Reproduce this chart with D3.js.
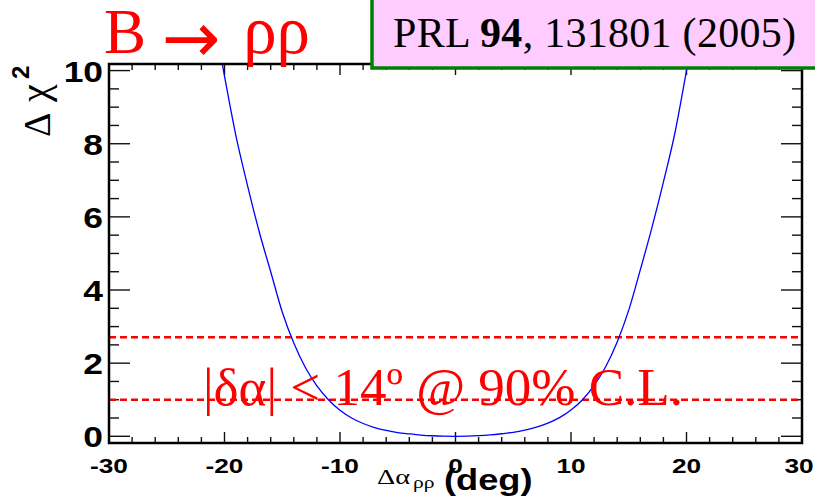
<!DOCTYPE html>
<html>
<head>
<meta charset="utf-8">
<script src="https://cdn.jsdelivr.net/npm/d3@7"></script>
<style>
  html, body { margin: 0; padding: 0; background: #fff; }
  svg { display: block; }
</style>
</head>
<body>
<svg id="chart" width="815" height="498"></svg>
<script>
// ---- data ----
const alphaDeg = [-21,-20,-19,-18,-17,-16,-15,-14,-13,-12,-11,-10,-9,-8,-7,-6,-5,-4,-3,-2,-1,0,1,2,3,4,5,6,7,8,9,10,11,12,13,14,15,16,17,18,19,20,21];
const deltaChi2 = [11.6,9.85,8.2,6.85,5.6,4.5,3.4,2.55,1.88,1.38,1.0,0.71,0.5,0.35,0.24,0.16,0.1,0.065,0.035,0.015,0.004,0.0,0.004,0.016,0.037,0.07,0.11,0.17,0.25,0.36,0.51,0.72,1.0,1.39,1.9,2.58,3.45,4.55,5.7,6.95,8.3,10.0,11.8];
const clLevels = [2.71, 1.0];
const xTickValues = [-30,-20,-10,0,10,20,30];
const yTickValues = [0,2,4,6,8,10];
const xDomain = [-30, 30];
const yDomain = [-0.183, 10.18];
const titleParts = ["B ", "\u2192", " \u03c1\u03c1"];
const refParts = [["PRL ", 400], ["94", 700], [", 131801 (2005)", 400]];
const clText = "|\u03b4\u03b1| < 14\u00ba @ 90% C.L.";

// ---- layout ----
const L = 109, R = 802, T = 64, B = 443;
const svg = d3.select("#chart");
const x = d3.scaleLinear().domain(xDomain).range([L, R]);
const y = d3.scaleLinear().domain(yDomain).range([B, T]);
const serif = "'Liberation Serif', 'Times New Roman', serif";
const sansBold = "'Liberation Sans', Arial, Helvetica, sans-serif";

svg.append("rect").attr("width", 815).attr("height", 498).attr("fill", "#fff");

svg.append("defs").append("clipPath").attr("id", "plotclip")
  .append("rect").attr("x", L).attr("y", T).attr("width", R - L).attr("height", B - T);

// ticks
const tickG = svg.append("g").attr("stroke", "#111").attr("stroke-width", 1.4);
d3.range(-30, 30.001, 2).forEach(v => {
  const major = Math.abs(v % 10) < 1e-9;
  const len = major ? 11 : 6;
  tickG.append("line").attr("x1", x(v)).attr("x2", x(v)).attr("y1", B).attr("y2", B - len);
  tickG.append("line").attr("x1", x(v)).attr("x2", x(v)).attr("y1", T).attr("y2", T + len);
});
d3.range(0, 10.001, 0.5).forEach(v => {
  const major = Math.abs(v % 2) < 1e-9;
  const len = major ? 21 : 10;
  tickG.append("line").attr("y1", y(v)).attr("y2", y(v)).attr("x1", L).attr("x2", L + len);
  tickG.append("line").attr("y1", y(v)).attr("y2", y(v)).attr("x1", R).attr("x2", R - len);
});

// dashed CL lines
svg.append("g").selectAll("line").data(clLevels).join("line")
  .attr("x1", L).attr("x2", R)
  .attr("y1", d => y(d)).attr("y2", d => y(d))
  .attr("stroke", "#ff0000").attr("stroke-width", 2.4)
  .attr("stroke-dasharray", "7 4");

// curve
const line = d3.line()
  .x((d, i) => x(alphaDeg[i]))
  .y(d => y(d))
  .curve(d3.curveMonotoneX);
svg.append("path")
  .attr("clip-path", "url(#plotclip)")
  .attr("d", line(deltaChi2))
  .attr("fill", "none").attr("stroke", "#0000ff").attr("stroke-width", 1.3);

// frame
svg.append("rect").attr("x", L).attr("y", T).attr("width", R - L).attr("height", B - T)
  .attr("fill", "none").attr("stroke", "#000").attr("stroke-width", 2.5);

// tick labels
svg.append("g").selectAll("text").data(xTickValues).join("text")
  .attr("transform", d => `translate(${Math.min(x(d), 799)},473) scale(1.25,1)`)
  .attr("text-anchor", "middle")
  .attr("font-family", sansBold).attr("font-weight", 700).attr("font-size", 21)
  .attr("fill", "#000")
  .text(d => d);
svg.append("g").selectAll("text").data(yTickValues).join("text")
  .attr("transform", d => `translate(103,${y(d) + 11}) scale(1.18,1)`)
  .attr("text-anchor", "end")
  .attr("font-family", sansBold).attr("font-weight", 700).attr("font-size", 30)
  .attr("fill", "#000")
  .text(d => d);

// red CL annotation
svg.append("text")
  .attr("x", 203).attr("y", 405)
  .attr("font-family", serif)
  .attr("font-size", 53).attr("fill", "#ff0000")
  .attr("textLength", 480).attr("lengthAdjust", "spacingAndGlyphs")
  .text(clText);

// y axis title
const yt = svg.append("g").attr("transform", "translate(50,137) rotate(-90)");
yt.append("text").attr("x", 0).attr("y", 0)
  .attr("font-family", serif).attr("font-size", 38)
  .attr("fill", "#000").text("\u0394");
yt.append("text").attr("x", 35).attr("y", -2)
  .attr("font-family", serif).attr("font-size", 40)
  .attr("fill", "#000").text("\u03c7");
yt.append("text").attr("x", 58).attr("y", -21)
  .attr("font-family", sansBold).attr("font-weight", 700).attr("font-size", 24)
  .attr("fill", "#000").text("2");

// x axis title
svg.append("text").attr("transform", "translate(377,484) scale(1.35,1)")
  .attr("font-family", serif).attr("font-size", 21)
  .attr("fill", "#000").text("\u0394\u03b1");
svg.append("text").attr("transform", "translate(413,488) scale(1.35,1)")
  .attr("font-family", serif).attr("font-size", 16)
  .attr("fill", "#000").text("\u03c1\u03c1");
svg.append("text").attr("transform", "translate(444,490) scale(1.25,1)")
  .attr("font-family", sansBold).attr("font-weight", 700).attr("font-size", 29)
  .attr("fill", "#000").text("(deg)");

// reference box
svg.append("rect").attr("x", 372).attr("y", -5).attr("width", 460).attr("height", 73)
  .attr("fill", "#ffccff").attr("stroke", "#008000").attr("stroke-width", 3.5);
const rt = svg.append("text").attr("x", 393).attr("y", 47)
  .attr("font-family", serif)
  .attr("font-size", 42).attr("fill", "#000")
  .attr("textLength", 403).attr("lengthAdjust", "spacing");
refParts.forEach(p => rt.append("tspan").attr("font-weight", p[1]).text(p[0]));

// title
const tt = svg.append("text").attr("x", 104).attr("y", 53)
  .attr("font-size", 63).attr("fill", "#ff0000").attr("font-family", serif);
tt.append("tspan").text(titleParts[0]);
tt.append("tspan").attr("font-family", "'DejaVu Sans', sans-serif")
  .attr("font-size", 70).attr("dy", 9).text(titleParts[1]);
tt.append("tspan").attr("dy", -9).attr("dx", 6).attr("font-size", 67).text(titleParts[2]);
</script>
</body>
</html>
